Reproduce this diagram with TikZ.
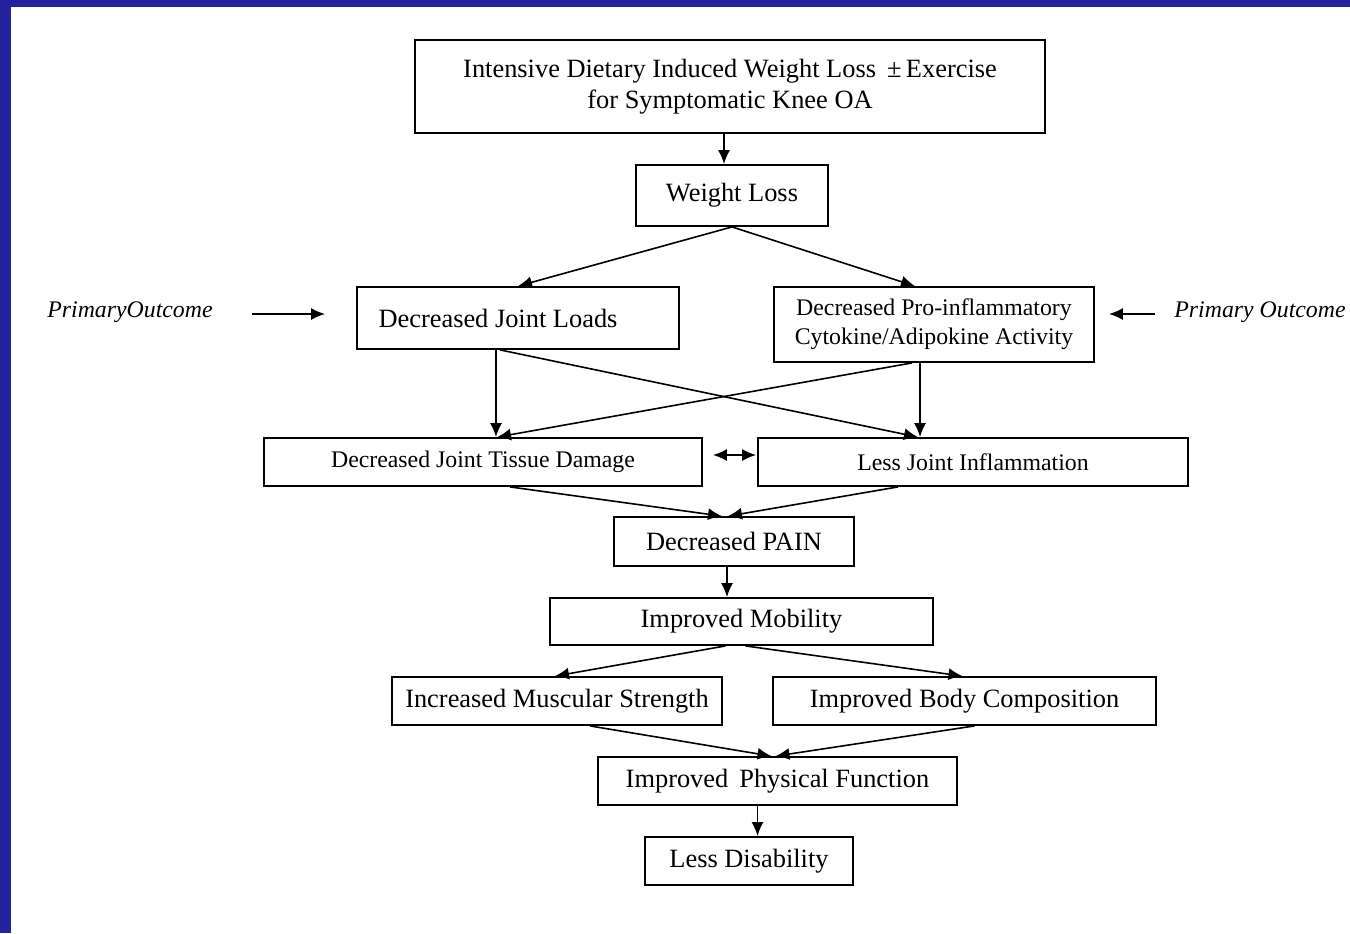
\documentclass[tikz,border=0pt]{standalone}
\usepackage{fontspec}
\setmainfont{Liberation Serif}
\usetikzlibrary{arrows.meta}
\definecolor{slideblue}{RGB}{36,34,158}

\begin{document}
\begin{tikzpicture}[x=0.5pt, y=-0.5pt, >={Latex[length=7pt,width=6pt]},
    box/.style={draw, line width=0.9pt, inner sep=0pt, align=center, font=\fontsize{13.2}{15.5}\selectfont},
    small/.style={font=\fontsize{11.9}{14.5}\selectfont},
    arr/.style={->, line width=0.8pt},
    side/.style={font=\fontsize{11.9}{14}\selectfont\itshape, inner sep=0pt}]
        % slide frame
        \fill[slideblue] (0,0) rectangle (1350,933);
        \fill[white] (11,7) rectangle (1350,933);
        \useasboundingbox (0,0) rectangle (1350,933);

        \node[box, minimum width=315pt, minimum height=46.5pt] (diet) at (730,86.5) {Intensive Dietary Induced Weight Loss \,±\,Exercise\\for Symptomatic Knee OA};
        \node[box, minimum width=96pt, minimum height=30.5pt] (wl) at (732,195.5) {Weight Loss};
        \node[box, minimum width=161pt, minimum height=31pt] (loads) at (518,318) {\hspace*{-20pt}Decreased Joint Loads};
        \node[box, small, minimum width=160pt, minimum height=37.5pt] (cyto) at (934,324.5) {\raisebox{-1.5pt}{\parbox{160pt}{\centering Decreased Pro-inflammatory\\Cytokine/Adipokine Activity}}};
        \node[box, small, minimum width=219pt, minimum height=24pt] (tissue) at (483,462) {Decreased Joint Tissue Damage};
        \node[box, small, minimum width=215pt, minimum height=24pt] (inflam) at (973,462) {Less Joint Inflammation};
        \node[box, minimum width=120pt, minimum height=24.5pt] (pain) at (734,541.5) {Decreased PAIN};
        \node[box, minimum width=191.5pt, minimum height=23.5pt] (mob) at (741.5,621.5) {Improved Mobility};
        \node[box, minimum width=165pt, minimum height=24pt] (musc) at (557,701) {Increased Muscular Strength};
        \node[box, minimum width=191.5pt, minimum height=24pt] (body) at (964.5,701) {Improved Body Composition};
        \node[box, minimum width=179.5pt, minimum height=24pt] (func) at (777.5,781) {Improved\, Physical Function};
        \node[box, minimum width=104pt, minimum height=24pt] (disab) at (749,861) {Less Disability};

        \node[side] (outl) at (130,312) {PrimaryOutcome};
        \node[side] (outr) at (1260,312) {Primary Outcome};

        \draw[arr] ([xshift=-3pt]diet.south) -- ([xshift=-3pt]diet.south |- wl.north);
        \draw[arr] (wl.south) -- (loads.north);
        \draw[arr] (wl.south) -- ([xshift=-9.5pt]cyto.north);
        \draw[arr] ([shift={(19.5pt,-1pt)}]outl.east) -- ([shift={(-15.5pt,2pt)}]loads.west);
        \draw[arr] ([shift={(-9.5pt,-1pt)}]outr.west) -- ([shift={(7pt,5.25pt)}]cyto.east);

        \draw[arr] ([xshift=-11pt]loads.south) -- ([xshift=-11pt]loads.south |- tissue.north);
        \draw[arr] ([xshift=-9pt]loads.south) -- ([xshift=-27.5pt]inflam.north);
        \draw[arr] ([xshift=-7pt]cyto.south) -- ([xshift=-7pt]cyto.south |- inflam.north);
        \draw[arr] ([xshift=-11pt]cyto.south) -- ([xshift=7pt]tissue.north);
        \draw[<->, line width=0.8pt] ([shift={(5pt,3.5pt)}]tissue.east) -- ([shift={(-0.5pt,3.5pt)}]inflam.west);

        \draw[arr] ([xshift=13.5pt]tissue.south) -- ([xshift=-6pt]pain.north);
        \draw[arr] ([xshift=-37.5pt]inflam.south) -- ([xshift=-3pt]pain.north);
        \draw[arr] ([xshift=-3.5pt]pain.south) -- ([xshift=-3.5pt]pain.south |- mob.north);
        \draw[arr] ([xshift=-8pt]mob.south) -- ([xshift=-1pt]musc.north);
        \draw[arr] ([xshift=2pt]mob.south) -- ([xshift=-1pt]body.north);
        \draw[arr] ([xshift=16.5pt]musc.south) -- ([xshift=-3pt]func.north);
        \draw[arr] ([xshift=5pt]body.south) -- ([xshift=-1pt]func.north);
        \draw[arr] ([xshift=-10pt]func.south) -- ([xshift=-10pt]func.south |- disab.north);
    \end{tikzpicture}
\end{document}
